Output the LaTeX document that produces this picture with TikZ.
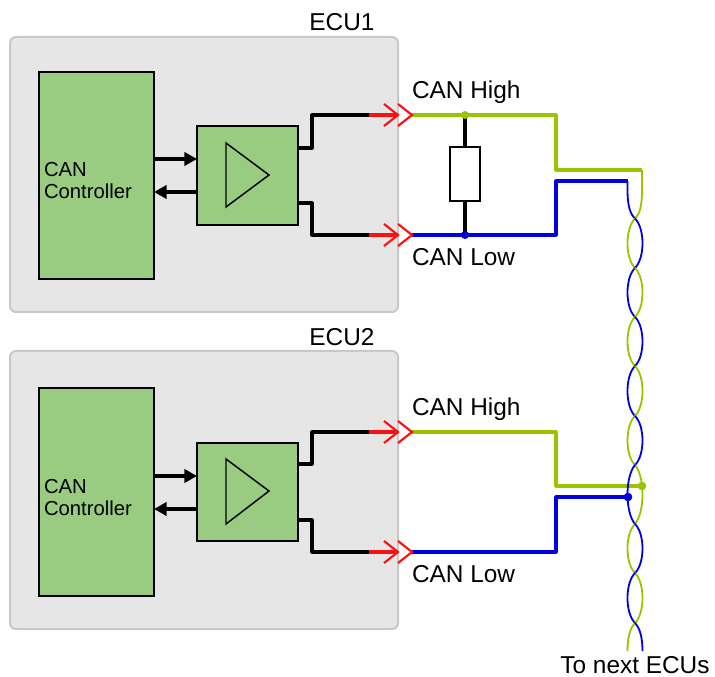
\documentclass[tikz,border=0pt]{standalone}
\usepackage{fontspec}
\setmainfont{Liberation Sans}
\usetikzlibrary{arrows.meta}
\definecolor{panelfill}{HTML}{E6E6E6}
\definecolor{panelline}{HTML}{C8C8C8}
\definecolor{blockfill}{HTML}{99CC80}
\definecolor{wgreen}{HTML}{9BC400}
\definecolor{wblue}{HTML}{0000E0}
\definecolor{wred}{HTML}{FF1010}
\tikzset{
  x=0.75pt,y=-0.75pt,
  every node/.style={inner sep=0pt,outer sep=0pt},
  panel/.style={draw=panelline,fill=panelfill,line width=1.5pt,rounded corners=4.5pt},
  block/.style={draw=black,fill=blockfill,line width=1.2pt},
  res/.style={draw=black,fill=white,line width=1.6pt,minimum width=22.5pt,minimum height=40.5pt},
  wire/.style={line width=2.3pt,black,line join=round},
  sig/.style={-{Triangle[length=9.5pt,width=10pt]},line width=2.3pt,black},
  tri/.style={line width=1.1pt,black,line join=miter},
  wg/.style={line width=2.3pt,wgreen,line join=round},
  wb/.style={line width=2.3pt,wblue,line join=round},
  tg/.style={line width=1.35pt,wgreen},
  tb/.style={line width=1.35pt,wblue},
  shaft/.style={line width=2.3pt,wred},
  chev/.style={line width=1.6pt,wred,line join=miter},
  lab/.style={font=\fontsize{18.3pt}{21pt}\selectfont,text=black},
  clab/.style={font=\fontsize{15.2pt}{16.8pt}\selectfont,text=black,align=left},
}
\newcommand{\chevat}[1]{\draw[chev] ([shift={(-14,-11)}]#1) -- (#1) -- ([shift={(-14,11)}]#1);}
\newcommand{\lensL}[3]{\draw[#3] (0,0) ++(635,#1) .. controls (625,#1+0.2*#2-0.2*#1) and (625,#2-0.2*#2+0.2*#1) .. (635,#2);}
\newcommand{\lensR}[3]{\draw[#3] (0,0) ++(635,#1) .. controls (645,#1+0.2*#2-0.2*#1) and (645,#2-0.2*#2+0.2*#1) .. (635,#2);}
\begin{document}
\begin{tikzpicture}
\useasboundingbox (0,0) rectangle (715,677);
% panels
\node[panel,minimum width=291pt,minimum height=206.25pt] (ecuA) at (204,174.5) {};
\node[panel,minimum width=291pt,minimum height=208.5pt] (ecuB) at (204,490) {};
\node[lab] (ecuAt) at (342,22) {ECU1};
\node[lab] (ecuBt) at (342,337) {ECU2};
% controllers
\node[block,minimum width=86.25pt,minimum height=155.25pt] (ctrlA) at (96.5,175.5) {};
\node[block,minimum width=86.25pt,minimum height=156pt] (ctrlB) at (96.5,492) {};
\node[clab,anchor=west] (ctrlAt) at (44,180.5) {CAN\\Controller};
\node[clab,anchor=west] (ctrlBt) at (44,497.5) {CAN\\Controller};
% amps
\node[block,minimum width=75.75pt,minimum height=74.25pt] (ampA) at (247.5,175.5) {};
\node[block,minimum width=75.75pt,minimum height=73.5pt] (ampB) at (247.5,492) {};
\coordinate (triAa) at (226,143); \coordinate (triAb) at (269,175); \coordinate (triAc) at (226,207);
\coordinate (triBa) at (226,459); \coordinate (triBb) at (269,491); \coordinate (triBc) at (226,524);
\draw[tri] (triAa) -- (triAb) -- (triAc) -- cycle;
\draw[tri] (triBa) -- (triBb) -- (triBc) -- cycle;
% signal arrows
\draw[sig] (ctrlA.east |- 0,159) -- (ampA.west |- 0,159);
\draw[sig] (ampA.west |- 0,192) -- (ctrlA.east |- 0,192);
\draw[sig] (ctrlB.east |- 0,476) -- (ampB.west |- 0,476);
\draw[sig] (ampB.west |- 0,509) -- (ctrlB.east |- 0,509);
% connector tips
\coordinate (tipAh) at (398,115); \coordinate (tipAl) at (398,235);
\coordinate (tipBh) at (398,432); \coordinate (tipBl) at (398,552);
\coordinate (outAh) at (412,115); \coordinate (outAl) at (412,235);
\coordinate (outBh) at (412,432); \coordinate (outBl) at (412,552);
\coordinate (redAh) at (369,115); \coordinate (redAl) at (369,235);
\coordinate (redBh) at (369,432); \coordinate (redBl) at (369,552);
% black wires
\draw[wire] (ampA.east |- 0,148) -| (312,115) -- (redAh);
\draw[wire] (ampA.east |- 0,203) -| (312,235) -- (redAl);
\draw[wire] (ampB.east |- 0,464) -| (312,432) -- (redBh);
\draw[wire] (ampB.east |- 0,520) -| (312,552) -- (redBl);
% resistor
\coordinate (jH) at (465,115); \coordinate (jL) at (465,235);
\draw[wire] (jH) -- (jL);
\node[res] (rterm) at (465,174) {};
% end points
\coordinate (turnAh) at (642,170); \coordinate (turnAl) at (627.5,181);
\coordinate (turnBh) at (642,486); \coordinate (turnBl) at (628,497);
% coloured wires
\draw[wg] (outAh) -| (556,170) -- (turnAh);
\draw[wb] (outAl) -| (556,181) -- (turnAl);
\draw[wg] (outBh) -| (556,486) -- (turnBh);
\draw[wb] (outBl) -| (556,497) -- (turnBl);
% twisted pair
\draw[tg] (turnAh) -- (642,190) .. controls (642,205) and (640,214) .. (635,218.5);
\draw[tb] (turnAl) -- (627.5,190) .. controls (627.5,205) and (630,214) .. (635,218.5);
\lensL{218.5}{268}{tg} \lensR{218.5}{268}{tb}
\lensL{268}{317}{tb} \lensR{268}{317}{tg}
\lensL{317}{366}{tg} \lensR{317}{366}{tb}
\lensL{366}{416}{tb} \lensR{366}{416}{tg}
\lensL{416}{465}{tg} \lensR{416}{465}{tb}
\lensR{465}{524}{tg} \lensL{465}{524}{tb}
\lensL{524}{573}{tg} \lensR{524}{573}{tb}
\lensR{573}{623}{tg} \lensL{573}{623}{tb}
\draw[tg] (635,623) .. controls (630,628) and (627.5,638) .. (627.5,651);
\draw[tb] (635,623) .. controls (640,628) and (642.5,638) .. (642.5,651);
% dots
\fill[wgreen] (jH) circle[radius=4];
\fill[wblue] (jL) circle[radius=4];
\fill[wgreen] (turnBh) circle[radius=4.3];
\fill[wblue] (turnBl) circle[radius=4.3];
% red chevrons
\draw[shaft] (redAh) -- (tipAh); \chevat{tipAh} \chevat{outAh}
\draw[shaft] (redAl) -- (tipAl); \chevat{tipAl} \chevat{outAl}
\draw[shaft] (redBh) -- (tipBh); \chevat{tipBh} \chevat{outBh}
\draw[shaft] (redBl) -- (tipBl); \chevat{tipBl} \chevat{outBl}
% labels
\node[lab,anchor=base west] (hiA) at (412,99) {CAN High};
\node[lab,anchor=base west] (loA) at (412,266) {CAN Low};
\node[lab,anchor=base west] (hiB) at (412,415.5) {CAN High};
\node[lab,anchor=base west] (loB) at (412,582.5) {CAN Low};
\node[lab] (nextE) at (635,665) {To next ECUs};
\end{tikzpicture}
\end{document}
